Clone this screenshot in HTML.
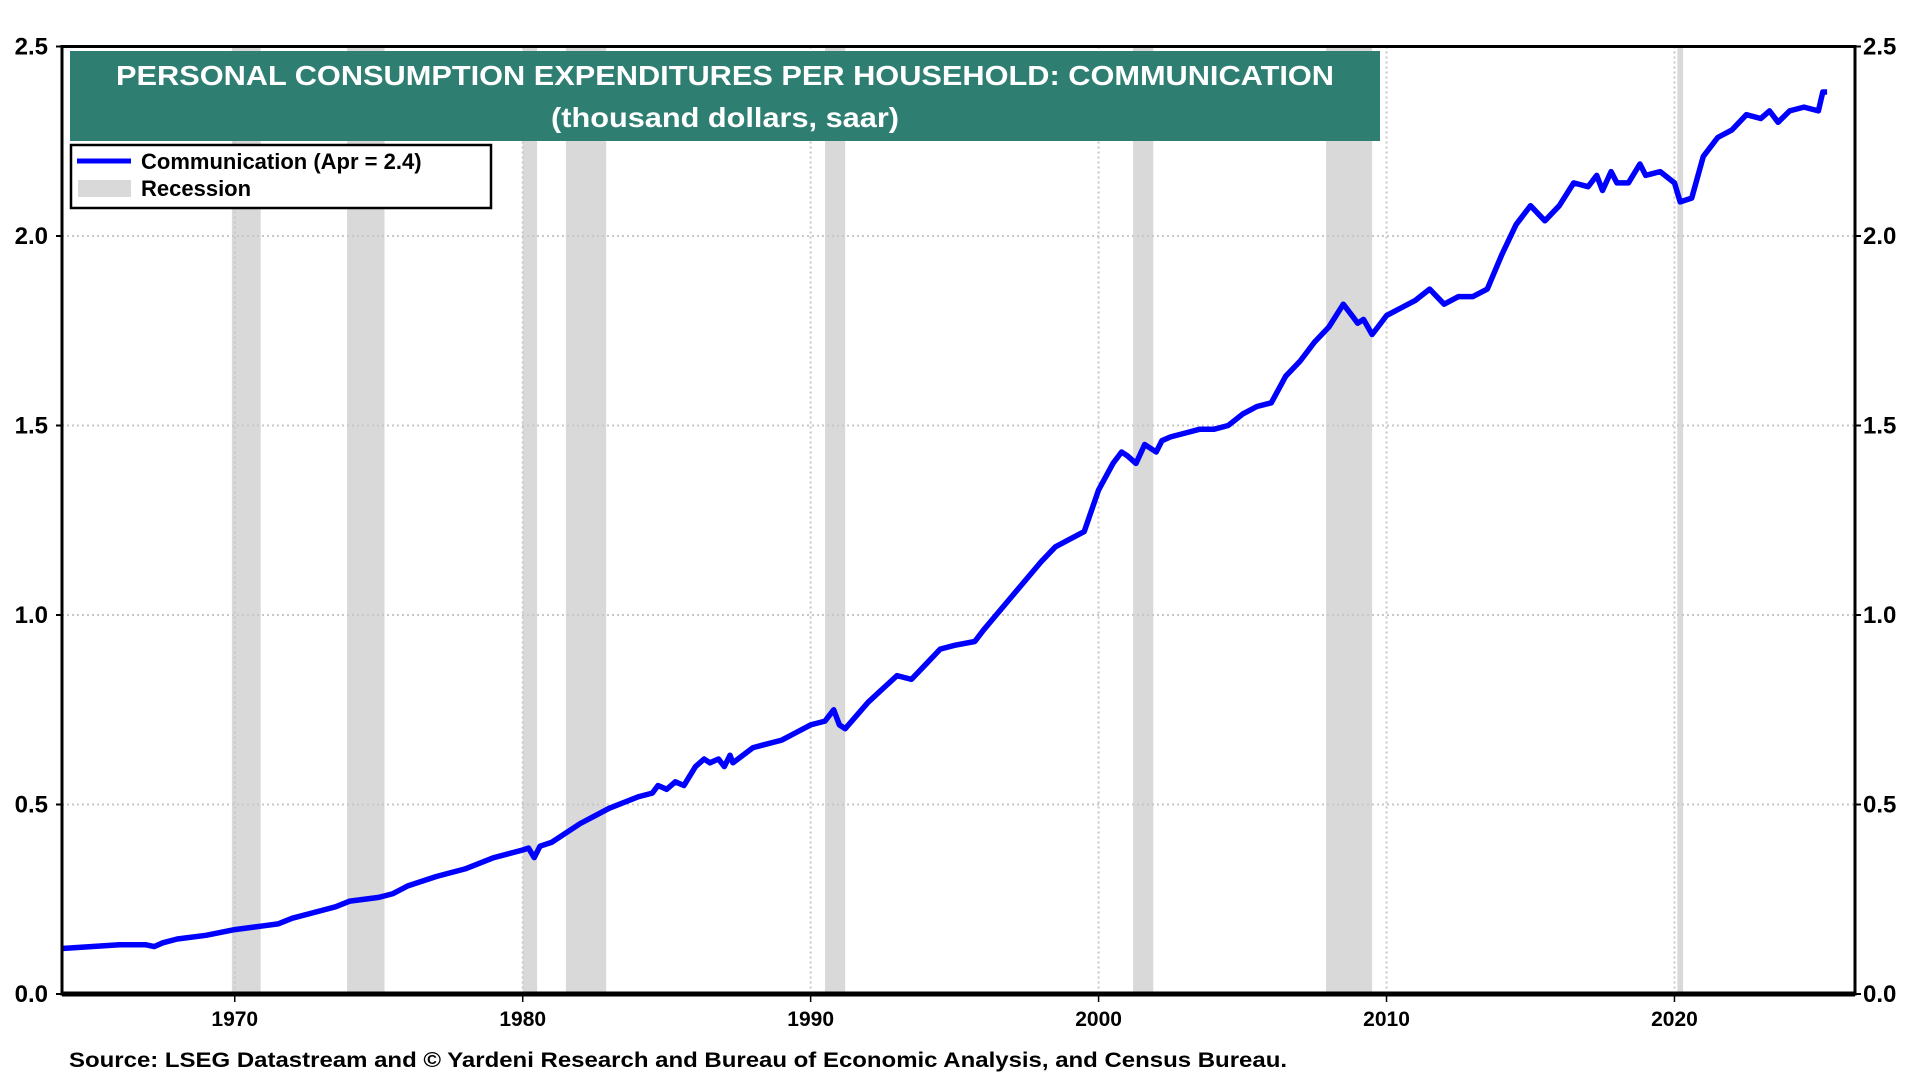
<!DOCTYPE html>
<html><head><meta charset="utf-8">
<style>
html,body{margin:0;padding:0;background:#fff;}
svg{display:block;font-family:"Liberation Sans",Arial,sans-serif;}
</style></head>
<body>
<svg id="chart" width="1920" height="1080" viewBox="0 0 1920 1080" xmlns="http://www.w3.org/2000/svg">
  <g id="rec"></g>
  <g id="grid"></g>
  <g id="series"></g>
  <g id="axes"></g>
  <g>
    <rect x="70" y="51" width="1310" height="90" fill="#2e7e72"/>
    <text x="725" y="85" text-anchor="middle" font-size="28" font-weight="bold" fill="#fff" textLength="1218" lengthAdjust="spacingAndGlyphs">PERSONAL CONSUMPTION EXPENDITURES PER HOUSEHOLD: COMMUNICATION</text>
    <text x="725" y="127" text-anchor="middle" font-size="28" font-weight="bold" fill="#fff" textLength="348" lengthAdjust="spacingAndGlyphs">(thousand dollars, saar)</text>
  </g>
  <g>
    <rect x="71" y="145" width="420" height="63" fill="#fff" stroke="#000" stroke-width="2.5"/>
    <line x1="77" y1="161" x2="131" y2="161" stroke="#0000ff" stroke-width="5"/>
    <text x="141" y="169" font-size="22" font-weight="bold">Communication (Apr = 2.4)</text>
    <rect x="78" y="180" width="53" height="17" fill="#d9d9d9"/>
    <text x="141" y="196" font-size="22" font-weight="bold">Recession</text>
  </g>
  <text x="69" y="1067" font-size="21.5" font-weight="bold" textLength="1218" lengthAdjust="spacingAndGlyphs">Source: LSEG Datastream and © Yardeni Research and Bureau of Economic Analysis, and Census Bureau.</text>
</svg>
<script>
const years = [1964.0,1965.0,1966.0,1966.9,1967.2,1967.5,1968.0,1969.0,1970.0,1971.0,1971.5,1972.0,1973.0,1973.5,1974.0,1975.0,1975.5,1976.0,1977.0,1978.0,1979.0,1980.0,1980.2,1980.4,1980.6,1981.0,1982.0,1982.5,1983.0,1984.0,1984.5,1984.7,1985.0,1985.3,1985.6,1986.0,1986.3,1986.5,1986.8,1987.0,1987.2,1987.3,1988.0,1989.0,1989.5,1990.0,1990.5,1990.8,1991.0,1991.2,1992.0,1993.0,1993.5,1994.0,1994.5,1995.0,1995.7,1996.0,1997.0,1998.0,1998.5,1999.0,1999.5,2000.0,2000.5,2000.8,2001.0,2001.3,2001.6,2002.0,2002.2,2002.5,2003.0,2003.5,2004.0,2004.5,2005.0,2005.5,2006.0,2006.5,2007.0,2007.5,2008.0,2008.5,2008.8,2009.0,2009.2,2009.5,2009.7,2010.0,2010.5,2011.0,2011.5,2012.0,2012.5,2013.0,2013.5,2014.0,2014.5,2015.0,2015.5,2016.0,2016.5,2017.0,2017.3,2017.5,2017.8,2018.0,2018.4,2018.8,2019.0,2019.5,2020.0,2020.2,2020.6,2021.0,2021.5,2022.0,2022.5,2023.0,2023.3,2023.6,2024.0,2024.5,2025.0,2025.15,2025.3];
const values = [0.12,0.125,0.13,0.13,0.125,0.135,0.145,0.155,0.17,0.18,0.185,0.20,0.22,0.23,0.245,0.255,0.265,0.285,0.31,0.33,0.36,0.38,0.385,0.36,0.39,0.40,0.45,0.47,0.49,0.52,0.53,0.55,0.54,0.56,0.55,0.60,0.62,0.61,0.62,0.60,0.63,0.61,0.65,0.67,0.69,0.71,0.72,0.75,0.71,0.70,0.77,0.84,0.83,0.87,0.91,0.92,0.93,0.96,1.05,1.14,1.18,1.20,1.22,1.33,1.40,1.43,1.42,1.40,1.45,1.43,1.46,1.47,1.48,1.49,1.49,1.50,1.53,1.55,1.56,1.63,1.67,1.72,1.76,1.82,1.79,1.77,1.78,1.74,1.76,1.79,1.81,1.83,1.86,1.82,1.84,1.84,1.86,1.95,2.03,2.08,2.04,2.08,2.14,2.13,2.16,2.12,2.17,2.14,2.14,2.19,2.16,2.17,2.14,2.09,2.10,2.21,2.26,2.28,2.32,2.31,2.33,2.30,2.33,2.34,2.33,2.38,2.38];
const recStart = [1969.9,1973.9,1980.0,1981.5,1990.5,2001.2,2007.9,2020.1];
const recEnd = [1970.9,1975.2,1980.5,1982.9,1991.2,2001.9,2009.5,2020.3];
const yTicks = [0,0.5,1.0,1.5,2.0,2.5];
const yTickLabels = ["0.0","0.5","1.0","1.5","2.0","2.5"];
const xTicks = [1970,1980,1990,2000,2010,2020];
const xTickLabels = ["1970","1980","1990","2000","2010","2020"];

const NS = "http://www.w3.org/2000/svg";
const L = 62, R = 1855, T = 46.5, B = 994;
const X0 = 1964.0, X1 = 2026.27, Y0 = 0, Y1 = 2.5;
function xs(v){ return L + (v - X0) / (X1 - X0) * (R - L); }
function ys(v){ return B - (v - Y0) / (Y1 - Y0) * (B - T); }
function mk(tag, attrs, parent){ const e = document.createElementNS(NS, tag); for (const k in attrs) e.setAttribute(k, attrs[k]); parent.appendChild(e); return e; }

const rec = document.getElementById('rec');
for (let i = 0; i < recStart.length; i++) {
  const r = mk('rect', {x: xs(recStart[i]), y: T, width: xs(recEnd[i]) - xs(recStart[i]), height: B - T, fill: '#d9d9d9'}, rec);
  
  
}
const grid = document.getElementById('grid');
for (const t of yTicks) {
  if (t === 0 || t === 2.5) continue;
  const g = mk('line', {x1: L, x2: R, y1: ys(t), y2: ys(t), stroke: '#c8c8c8', 'stroke-width': 2, 'stroke-dasharray': '2,3'}, grid);
  
  
}
for (const t of xTicks) {
  const g = mk('line', {x1: xs(t), x2: xs(t), y1: T, y2: B, stroke: '#c8c8c8', 'stroke-width': 2, 'stroke-dasharray': '2,3'}, grid);
  
  
}
const series = document.getElementById('series');
let d = '';
for (let i = 0; i < years.length; i++) d += (i ? 'L' : 'M') + xs(years[i]).toFixed(1) + ',' + ys(values[i]).toFixed(1);
const p = mk('path', {d: d, fill: 'none', stroke: '#0000ff', 'stroke-width': 5.5, 'stroke-linejoin': 'round'}, series);



const axes = document.getElementById('axes');
const frame = mk('rect', {x: L, y: T, width: R - L, height: B - T, fill: 'none', stroke: '#000', 'stroke-width': 3}, axes);


const xb = mk('line', {x1: L, x2: R, y1: B, y2: B, stroke: '#000', 'stroke-width': 5}, axes);


for (let i = 0; i < yTicks.length; i++) {
  const y = ys(yTicks[i]);
  mk('line', {x1: L - 6, x2: L, y1: y, y2: y, stroke: '#000', 'stroke-width': 2}, axes);
  mk('line', {x1: R, x2: R + 6, y1: y, y2: y, stroke: '#000', 'stroke-width': 2}, axes);
  const tl = mk('text', {x: 48, y: y + 8, 'text-anchor': 'end', 'font-size': 24, 'font-weight': 'bold'}, axes);
  tl.textContent = yTickLabels[i];
  
  
  const tr = mk('text', {x: 1863, y: y + 8, 'text-anchor': 'start', 'font-size': 24, 'font-weight': 'bold'}, axes);
  tr.textContent = yTickLabels[i];
  
  
}
for (let i = 0; i < xTicks.length; i++) {
  const x = xs(xTicks[i]);
  mk('line', {x1: x, x2: x, y1: B, y2: B + 8, stroke: '#000', 'stroke-width': 1.5}, axes);
  const t = mk('text', {x: x, y: B + 32, 'text-anchor': 'middle', 'font-size': 21, 'font-weight': 'bold'}, axes);
  t.textContent = xTickLabels[i];
  
  
}
</script>
</body></html>
